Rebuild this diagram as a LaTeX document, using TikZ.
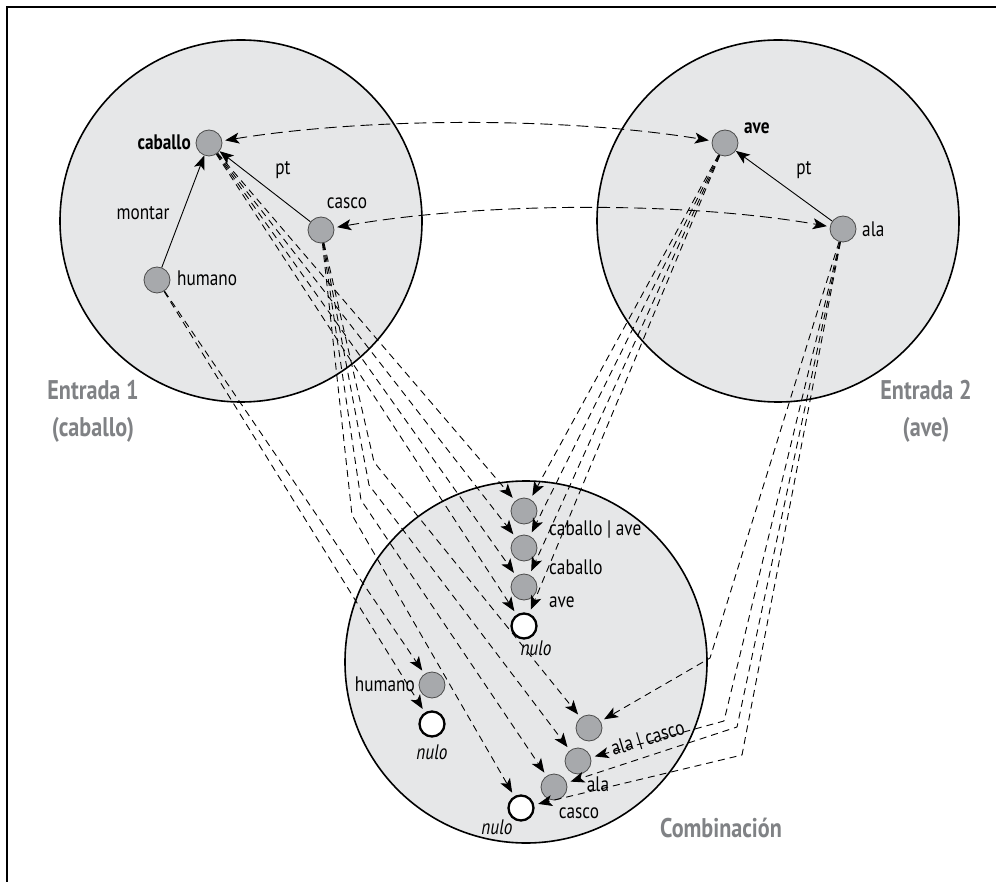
\documentclass[tikz,border=0pt]{standalone}
\usepackage{fontspec}
\setmainfont[FakeStretch=0.82]{PT Sans}
\usetikzlibrary{arrows.meta}
\definecolor{spacefill}{HTML}{E6E7E8}
\definecolor{elemfill}{HTML}{A7A9AC}
\definecolor{titlegray}{HTML}{808285}
\begin{document}
\begin{tikzpicture}[x=1pt,y=-1pt,
  space/.style={circle,draw=black,line width=1.6pt,fill=spacefill,minimum size=362pt,inner sep=0pt},
  elem/.style={circle,draw=black!70,line width=0.8pt,fill=elemfill,minimum size=26pt,inner sep=0pt},
  void/.style={circle,draw=black,line width=2.3pt,fill=white,minimum size=25pt,inner sep=0pt},
  lbl/.style={font=\fontsize{21}{24}\selectfont,inner sep=0pt},
  blbl/.style={font=\fontsize{21}{24}\selectfont\bfseries,inner sep=0pt},
  ilbl/.style={font=\fontsize{21}{24}\selectfont\itshape,inner sep=0pt},
  title/.style={font=\fontsize{27}{37}\selectfont\bfseries,text=titlegray,align=center,inner sep=0pt},
  tip/.style={-{Stealth[length=14pt,width=11pt,inset=3.5pt]}},
  bothtips/.style={{Stealth[length=14pt,width=11pt,inset=3.5pt]}-{Stealth[length=14pt,width=11pt,inset=3.5pt]}},
  rel/.style={line width=0.9pt,tip},
  map/.style={line width=0.9pt,dash pattern=on 7pt off 5pt,tip,shorten >=4pt},
  link/.style={line width=0.9pt,dash pattern=on 12pt off 6pt,bothtips,shorten >=3pt,shorten <=3pt}
]
\useasboundingbox (0,0) rectangle (996,882);
\draw[line width=1.4pt] (7,882) -- (7,7) -- (996,7);

% the three mental spaces
\node[space] (s1) at (241,221) {};
\node[space] (s2) at (778,221) {};
\node[space] (s3) at (526,662) {};

% input 1
\node[elem] (cab) at (209,143) {};
\node[elem] (cas) at (321,230) {};
\node[elem] (hum) at (157,280) {};
% input 2
\node[elem] (ave) at (725,143) {};
\node[elem] (ala) at (843,229) {};
% blend
\node[elem] (bca) at (524,511) {};
\node[elem] (bc)  at (524,548) {};
\node[elem] (ba)  at (524,587) {};
\node[void] (bn0) at (524,626) {};
\node[elem] (bh)  at (432,685) {};
\node[void] (bhn) at (432,724) {};
\node[elem] (bac) at (589,728) {};
\node[elem] (bal) at (578,761) {};
\node[elem] (bcs) at (554,787) {};
\node[void] (bn1) at (521,808) {};

% labels
\node[blbl,anchor=east] (tcab) at (191,142) {caballo};
\node[lbl] (tcas) at (347,203) {casco};
\node[lbl,anchor=west] (thum) at (177,278) {humano};
\node[lbl] (tmon) at (143,213) {montar};
\node[lbl] (tpt1) at (283,170) {pt};
\node[blbl,anchor=west] (tave) at (744,128) {ave};
\node[lbl,anchor=west] (tala) at (862,229) {ala};
\node[lbl] (tpt2) at (804,170) {pt};
\node[title] (e1) at (93,411) {Entrada 1\\(caballo)};
\node[title] (e2) at (926,411) {Entrada 2\\(ave)};
\node[title] (cmb) at (721,828) {Combinación};

\node[lbl,anchor=west] (tbca) at (549,530) {caballo | ave};
\node[lbl,anchor=west] (tbc)  at (549,567) {caballo};
\node[lbl,anchor=west] (tba)  at (549,602) {ave};
\node[ilbl] (tbn0) at (536,648) {nulo};
\node[lbl,anchor=east] (tbh)  at (415,684) {humano};
\node[ilbl] (tbhn) at (432,752) {nulo};
\node[lbl,rotate=17] (tbac) at (648,739) {ala | casco};
\node[lbl] (tbal) at (598,784) {ala};
\node[lbl] (tbcs) at (579,813) {casco};
\node[ilbl] (tbn1) at (497,827) {nulo};

% relations inside the inputs
\draw[rel] (hum) -- (cab);
\draw[rel] (cas) -- (cab);
\draw[rel] (ala) -- (ave);

% cross-space counterparts
\draw[link] (cab) .. controls +(160,-26) and +(-160,-26) .. (ave);
\draw[link] (cas) .. controls +(160,-28) and +(-160,-28) .. (ala);

% projections from input 1
\foreach \t in {bca,bc,ba,bn0} \draw[map] (cab) -- (\t);
\foreach \t in {bh,bhn} \draw[map] (hum) -- (\t);
\coordinate (kc1) at (374,462);
\coordinate (kc2) at (369,485);
\coordinate (kc3) at (361,500);
\coordinate (kc4) at (352,515);
\draw[map] (cas) -- (kc1) -- (bac);
\draw[map] (cas) -- (kc2) -- (bal);
\draw[map] (cas) -- (kc3) -- (bcs);
\draw[map] (cas) -- (kc4) -- (bn1);

% projections from input 2
\foreach \t in {bca,bc,ba,bn0} \draw[map] (ave) -- (\t);
\coordinate (ka1) at (710,658);
\coordinate (ka2) at (724,721);
\coordinate (ka3) at (737,727);
\coordinate (ka4) at (742,755);
\draw[map] (ala) -- (ka1) -- (bac);
\draw[map] (ala) -- (ka2) -- (bal);
\draw[map] (ala) -- (ka3) -- (bcs);
\draw[map] (ala) -- (ka4) -- (bn1);
\end{tikzpicture}
\end{document}
